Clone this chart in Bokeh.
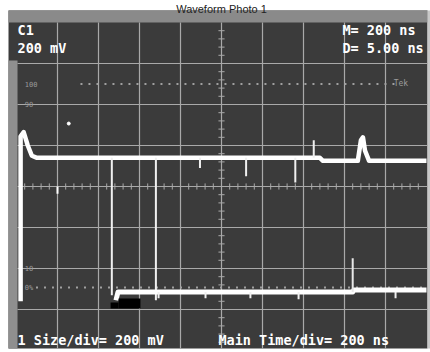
import numpy as np
from bokeh.plotting import figure
from bokeh.models import Range1d, BoxAnnotation, Label
from bokeh.embed import file_html
from bokeh.resources import INLINE

# ---- values (time in ns, voltage in mV) ----
time_per_div = 200
volt_per_div = 200
grid_t = [200, 400, 600, 800, 1000, 1200, 1400, 1600, 1800]
grid_v = [-600, -400, -200, 0, 200, 400, 600]

upper_t = [20, 20, 35, 55, 75, 100, 1480, 1495, 1665, 1680, 1690, 1700, 1720, 2000]
upper_v = [-560, 245, 265, 200, 150, 140, 140, 125, 125, 225, 240, 175, 125, 125]

glitch_t = [465, 680, 895, 1120, 1360, 1450]
glitch_end = [-530, -555, 90, 50, 20, 225]

lower_t = [485, 495, 1640, 1645, 2000]
lower_v = [-555, -515, -515, -505, -505]
lower_spike_t = [693, 922, 1141, 1376, 1849]
lower_spike_end = [-545, -545, -545, -550, -545]

ref_levels = [500, -493]          # 100 % and 0 % dotted markers
ref_labels = ["100", "90", "10", "0%"]
ref_label_v = [502, 400, -400, -493]

SCREEN = "#3b3b3b"
GRID = "#a9a9a9"
FONT = "DejaVu Sans Mono"

p = figure(width=430, height=352, x_range=Range1d(-78.05, 2019.5),
           y_range=Range1d(-809.8, 907.3), x_axis_type=None, y_axis_type=None,
           toolbar_location=None, output_backend="svg", min_border=0)
p.outline_line_color = None
p.background_fill_color = "white"
p.border_fill_color = "white"
p.grid.visible = False

# screen
p.add_layout(BoxAnnotation(left=-39, right=2005, bottom=-790, top=859,
                           fill_color=SCREEN, fill_alpha=1, line_color=None, level="underlay"))
p.add_layout(BoxAnnotation(left=-39, right=2005, bottom=800, top=859,
                           fill_color="#8a8a8a", fill_alpha=1, line_color=None, level="underlay"))
p.add_layout(BoxAnnotation(left=-39, right=5, bottom=-790, top=615,
                           fill_color="#8f8f8f", fill_alpha=1, line_color=None, level="underlay"))
p.add_layout(BoxAnnotation(left=2005, right=2019, bottom=-790, top=859,
                           fill_color="#c8c8c8", fill_alpha=1, line_color=None, level="underlay"))

# title above the photo
p.add_layout(Label(x=1000, y=866, text="Waveform Photo 1", text_font="Liberation Sans",
                   text_font_size="11px", text_color="#222222", text_align="center",
                   text_baseline="alphabetic"))

# graticule
p.segment(x0=grid_t, y0=[-790] * len(grid_t), x1=grid_t, y1=[800] * len(grid_t),
          line_color=GRID, line_width=1.2)
p.segment(x0=[5] * len(grid_v), y0=grid_v, x1=[2005] * len(grid_v), y1=grid_v,
          line_color=GRID, line_width=1.2)
minor_t = np.arange(40, 2000, 40)
p.segment(x0=minor_t, y0=-15, x1=minor_t, y1=15, line_color=GRID, line_width=1)
minor_v = np.arange(-760, 800, 40)
p.segment(x0=985, y0=minor_v, x1=1015, y1=minor_v, line_color=GRID, line_width=1)

# reference dotted lines
p.segment(x0=[312, 95], y0=ref_levels, x1=[1873, 2000], y1=ref_levels,
          line_color="#a0a0a0", line_width=2, line_dash="2 6")
for txt_, vv in zip(ref_labels, ref_label_v):
    p.add_layout(Label(x=40, y=vv, text=txt_, text_font=FONT, text_font_size="7px",
                       text_color="#9a9a9a", text_baseline="middle"))
p.add_layout(Label(x=1840, y=502, text="Tek", text_font=FONT, text_font_size="8px",
                   text_color="#9a9a9a", text_baseline="middle"))

# traces
p.line(upper_t, upper_v, line_color="white", line_width=4.5, line_join="round")
p.segment(x0=glitch_t, y0=[140] * len(glitch_t), x1=glitch_t, y1=glitch_end,
          line_color="#f0f0f0", line_width=2)
p.line(lower_t, lower_v, line_color="white", line_width=5, line_join="round")
p.segment(x0=lower_spike_t, y0=[-515] * len(lower_spike_t), x1=lower_spike_t,
          y1=lower_spike_end, line_color="#f0f0f0", line_width=2)
p.segment(x0=[1640], y0=[-515], x1=[1640], y1=[-350], line_color="#e8e8e8", line_width=2)
p.segment(x0=[200], y0=[0], x1=[200], y1=[-35], line_color="white", line_width=2)
p.scatter([255], [307], size=3, color="white")
p.quad(left=[459, 498], right=[498, 605], bottom=[-595, -595], top=[-566, -546],
       fill_color="black", line_color=None)

# readouts
def txt(x, y, s):
    p.add_layout(Label(x=x, y=y, text=s, text_font=FONT, text_font_size="13.5px",
                       text_font_style="bold", text_color="white", text_baseline="middle"))

txt(5, 761, "C1")
txt(5, 678, "200 mV")
txt(1590, 761, "M= 200 ns")
txt(1590, 678, "D= 5.00 ns")
txt(5, -751, "1 Size/div= 200 mV")
txt(985, -751, "Main Time/div= 200 ns")

open("out.html", "w").write(file_html(p, INLINE))
